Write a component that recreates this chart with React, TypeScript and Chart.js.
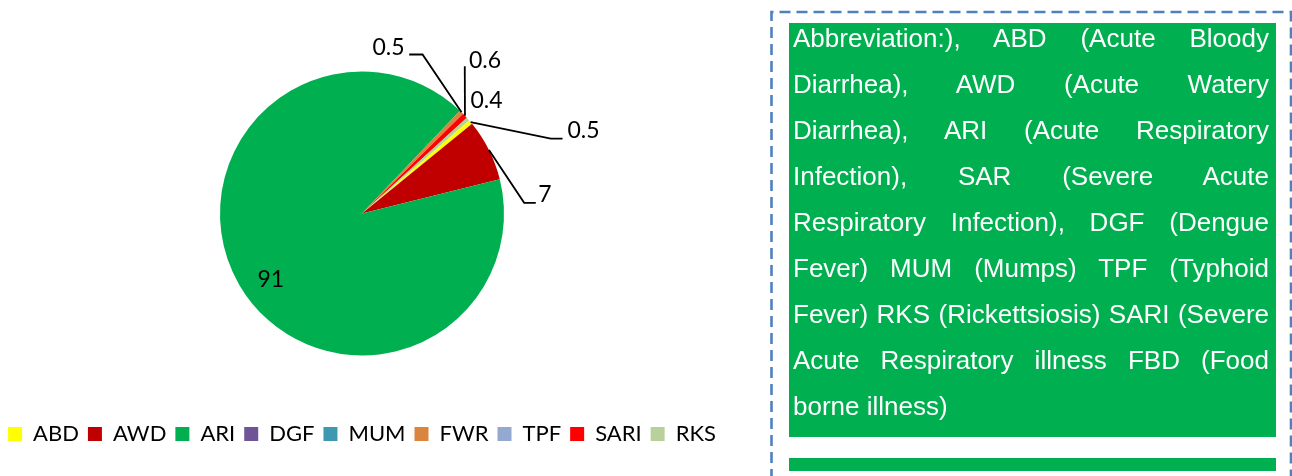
import React, { useEffect, useRef } from "react";
import { Chart, registerables } from "chart.js";

Chart.register(...registerables);

// ---- data ----
const categories = ["ABD", "AWD", "ARI", "DGF", "MUM", "FWR", "TPF", "SARI", "RKS"];
const values = [0.5, 7, 91, 0, 0, 0.5, 0, 0.6, 0.4];
const sliceColors = ["#FFFF00", "#C00000", "#00B050", "#6F5597", "#3E98AF", "#DB843D", "#93A9D0", "#FF0000", "#B8D19A"];

// label placement: offsets (px) from each slice's outer mid-point
const labelOffsets: ([number, number] | null)[] = [
  [112.9, 9],
  [56, 45.1],
  [31.5, -5.7],
  null,
  null,
  [-73, -64.4],
  null,
  [20, -55.4],
  [18.5, -18.7],
];
const leaderOffsets: [number, number][][] = [
  [[80.2, 16.5], [91.9, 16.5]],
  [[35.2, 52.9], [46.8, 52.9]],
  [],
  [],
  [],
  [[-39, -57.7], [-52.3, -57.7]],
  [],
  [[-0.2, -49.5]],
  [],
];

const noteLines = [
  "Abbreviation:), ABD (Acute Bloody",
  "Diarrhea), AWD (Acute Watery",
  "Diarrhea), ARI (Acute Respiratory",
  "Infection), SAR (Severe Acute",
  "Respiratory Infection), DGF (Dengue",
  "Fever) MUM (Mumps) TPF (Typhoid",
  "Fever) RKS (Rickettsiosis) SARI (Severe",
  "Acute Respiratory illness FBD (Food",
  "borne illness)",
];

const valueLabelPlugin = {
  id: "valueLabels",
  afterDatasetsDraw(chart: any) {
    const ctx = chart.ctx as CanvasRenderingContext2D;
    const meta = chart.getDatasetMeta(0);
    ctx.save();
    ctx.font = "23px Lato";
    ctx.fillStyle = "#000";
    ctx.strokeStyle = "#000";
    ctx.lineWidth = 1.8;
    ctx.textAlign = "center";
    ctx.textBaseline = "middle";
    meta.data.forEach((arc: any, i: number) => {
      const off = labelOffsets[i];
      if (!off || !values[i]) return;
      const p = arc.getProps(["x", "y", "startAngle", "endAngle", "outerRadius"], true);
      const mid = (p.startAngle + p.endAngle) / 2;
      const ox = p.x + Math.cos(mid) * p.outerRadius;
      const oy = p.y + Math.sin(mid) * p.outerRadius;
      const leader = leaderOffsets[i];
      if (leader.length) {
        ctx.beginPath();
        ctx.moveTo(ox, oy);
        leader.forEach(([dx, dy]) => ctx.lineTo(ox + dx, oy + dy));
        ctx.stroke();
      }
      ctx.fillText(String(values[i]), ox + off[0], oy + off[1]);
    });
    ctx.restore();
  },
};

function PieChart() {
  const ref = useRef<HTMLCanvasElement | null>(null);
  useEffect(() => {
    if (!ref.current) return;
    const chart = new Chart(ref.current, {
      type: "pie",
      data: {
        labels: categories,
        datasets: [{ data: values, backgroundColor: sliceColors, borderWidth: 0 }],
      },
      options: {
        responsive: false,
        animation: false,
        rotation: 49,
        radius: 142,
        layout: { padding: { top: 13, bottom: 21, left: 0, right: 0 } },
        plugins: {
          legend: {
            position: "bottom",
            labels: {
              boxWidth: 14,
              boxHeight: 14,
              padding: 9,
              color: "#000",
              font: { family: "Lato", size: 22 },
            },
          },
          tooltip: { enabled: false },
        },
      } as any,
      plugins: [valueLabelPlugin],
    });
    return () => chart.destroy();
  }, []);
  return (
    <canvas
      ref={ref}
      width={764}
      height={476}
      style={{ position: "absolute", left: -20, top: 0, width: 764, height: 476, display: "block" }}
    />
  );
}

export default function App() {
  return (
    <div style={{ position: "absolute", left: 0, top: 0, width: 1292, height: 476, background: "#fff", overflow: "hidden" }}>
      <PieChart />
      <svg width={1292} height={476} style={{ position: "absolute", left: 0, top: 0 }}>
        <path
          d="M771.5,480 L771.5,12 L1291,12 L1291,480"
          fill="none"
          stroke="#4F81BD"
          strokeWidth={2.6}
          strokeDasharray="11 6"
        />
      </svg>
      <div
        style={{
          position: "absolute",
          left: 789,
          top: 23,
          width: 487,
          height: 414,
          background: "#00B050",
        }}
      >
        <div
          style={{
            position: "relative",
            top: -8,
            paddingLeft: 4,
            paddingRight: 7,
            fontFamily: '"Liberation Sans", Arial, sans-serif',
            fontSize: 26,
            lineHeight: "46px",
            color: "#fff",
          }}
        >
          {noteLines.map((line, i) => (
            <div
              key={i}
              style={{
                textAlign: "justify",
                textAlignLast: i < noteLines.length - 1 ? "justify" : "left",
                whiteSpace: "normal",
              } as any}
            >
              {line}
            </div>
          ))}
        </div>
      </div>
      <div style={{ position: "absolute", left: 789, top: 458, width: 487, height: 13, background: "#00B050" }} />
    </div>
  );
}
